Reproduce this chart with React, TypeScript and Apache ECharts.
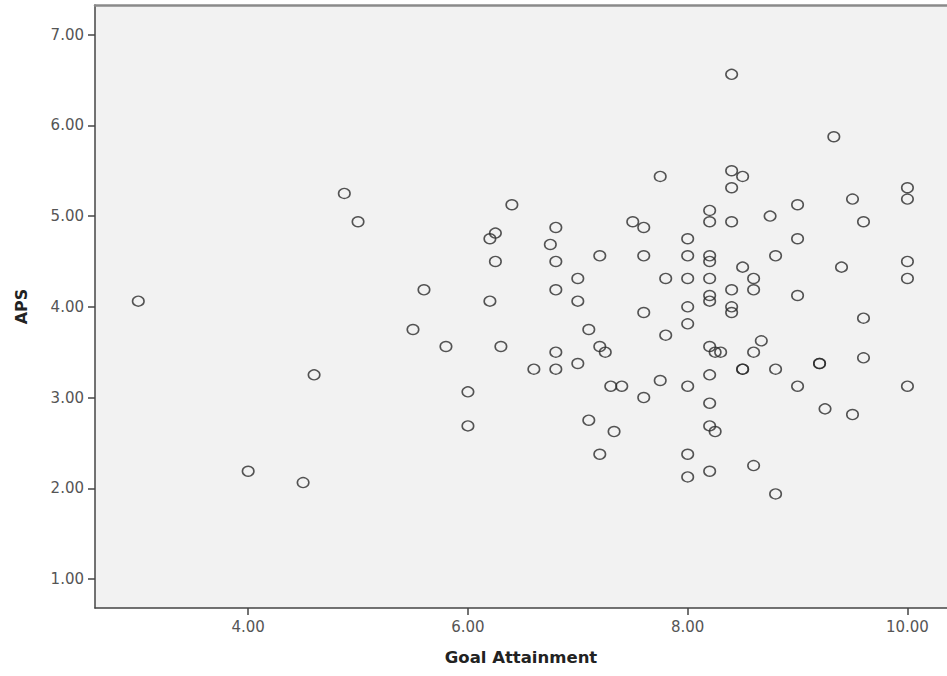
import React, { useEffect, useRef } from "react";
import * as echarts from "echarts";

const goalAttainment: number[] = [
  3.0, 4.0, 4.5, 4.6, 4.875, 5.0, 5.6, 5.5, 5.8, 6.0, 6.0,
  6.4, 6.8, 6.25, 6.2, 7.5, 7.6, 8.0, 6.75, 6.25, 6.8, 7.2, 7.6, 8.0,
  7.0, 7.8, 8.0, 6.8, 6.2, 7.0, 8.0, 7.6, 8.0, 7.1, 7.8, 6.3, 7.2, 7.25,
  6.8, 6.6, 6.8, 7.0, 7.3, 7.4, 7.75, 8.0, 7.6, 7.1, 7.33, 7.2, 8.0, 8.0,
  8.4, 9.33, 7.75, 8.4, 8.5, 8.4, 10.0, 10.0, 9.5, 9.0, 8.2, 8.2, 8.4,
  8.75, 9.6, 9.0, 8.2, 8.2, 8.8, 8.5, 9.4, 10.0, 10.0, 8.2, 8.6, 8.4,
  8.6, 9.0, 8.2, 8.2, 8.4, 8.4, 9.6, 8.67, 8.2, 8.25, 8.3, 8.6, 9.6,
  8.5, 8.5, 8.8, 9.2, 9.2, 8.2, 9.0, 10.0, 8.2, 9.25, 9.5, 8.2, 8.25,
  8.2, 8.6, 8.8,
];

const aps: number[] = [
  4.0625, 2.1875, 2.0625, 3.25, 5.25, 4.9375, 4.1875, 3.75, 3.5625, 3.0625, 2.6875,
  5.125, 4.875, 4.8125, 4.75, 4.9375, 4.875, 4.75, 4.6875, 4.5, 4.5, 4.5625, 4.5625, 4.5625,
  4.3125, 4.3125, 4.3125, 4.1875, 4.0625, 4.0625, 4.0, 3.9375, 3.8125, 3.75, 3.6875, 3.5625, 3.5625, 3.5,
  3.5, 3.3125, 3.3125, 3.375, 3.125, 3.125, 3.1875, 3.125, 3.0, 2.75, 2.625, 2.375, 2.375, 2.125,
  6.5625, 5.875, 5.4375, 5.5, 5.4375, 5.3125, 5.3125, 5.1875, 5.1875, 5.125, 5.0625, 4.9375, 4.9375,
  5.0, 4.9375, 4.75, 4.5625, 4.5, 4.5625, 4.4375, 4.4375, 4.5, 4.3125, 4.3125, 4.3125, 4.1875,
  4.1875, 4.125, 4.125, 4.0625, 4.0, 3.9375, 3.875, 3.625, 3.5625, 3.5, 3.5, 3.5, 3.4375,
  3.3125, 3.3125, 3.3125, 3.375, 3.375, 3.25, 3.125, 3.125, 2.9375, 2.875, 2.8125, 2.6875, 2.625,
  2.1875, 2.25, 1.9375,
];

const xTicks: number[] = [4, 6, 8, 10];
const yTicks: number[] = [1, 2, 3, 4, 5, 6, 7];

const xTitle = "Goal Attainment";
const yTitle = "APS";

export default function App() {
  const ref = useRef<HTMLDivElement>(null);

  useEffect(() => {
    if (!ref.current) return;
    const chart = echarts.init(ref.current, undefined, { renderer: "svg" });
    const points = goalAttainment.map((x, i) => [x, aps[i]]);
    const labelFont = "DejaVu Sans, sans-serif";
    const xMin = 2.606;
    const xMax = 10.36;
    chart.setOption({
      animation: false,
      backgroundColor: "#ffffff",
      grid: {
        left: 95,
        top: 5,
        right: 0,
        bottom: 68,
        show: true,
        backgroundColor: "#F2F2F2",
        borderWidth: 0,
      },
      xAxis: [
        {
          type: "value",
          min: xMin,
          max: xMax,
          name: xTitle,
          nameLocation: "middle",
          nameGap: 41,
          nameMoveOverlap: false,
          nameTextStyle: {
            fontFamily: labelFont,
            fontWeight: "bold",
            fontSize: 16.5,
            color: "#222",
          },
          axisLine: { show: true, onZero: false, lineStyle: { color: "#444", width: 1.5 } },
          axisTick: {
            show: true,
            customValues: xTicks,
            length: 7,
            lineStyle: { color: "#444", width: 1.5 },
          },
          axisLabel: {
            customValues: xTicks,
            formatter: (v: number) => v.toFixed(2),
            fontFamily: labelFont,
            fontSize: 15,
            color: "#555",
            margin: 11,
          },
          splitLine: { show: false },
        },
        {
          type: "value",
          position: "top",
          min: xMin,
          max: xMax,
          axisLine: { show: true, onZero: false, lineStyle: { color: "#8a8a8a", width: 2.5 } },
          axisTick: { show: false },
          axisLabel: { show: false },
          splitLine: { show: false },
        },
      ],
      yAxis: {
        type: "value",
        min: 0.68,
        max: 7.327,
        name: yTitle,
        nameLocation: "middle",
        nameGap: 66,
        nameMoveOverlap: false,
        nameRotate: 90,
        nameTextStyle: {
          fontFamily: labelFont,
          fontWeight: "bold",
          fontSize: 16,
          color: "#222",
        },
        axisLine: { show: true, onZero: false, lineStyle: { color: "#444", width: 1.5 } },
        axisTick: {
          show: true,
          customValues: yTicks,
          length: 7,
          lineStyle: { color: "#444", width: 1.5 },
        },
        axisLabel: {
          customValues: yTicks,
          formatter: (v: number) => v.toFixed(2),
          fontFamily: labelFont,
          fontSize: 15,
          color: "#555",
          margin: 11,
        },
        splitLine: { show: false },
      },
      series: [
        {
          type: "scatter",
          xAxisIndex: 0,
          data: points,
          symbol: "circle",
          symbolSize: [11.5, 10],
          itemStyle: {
            color: "rgba(0,0,0,0)",
            borderColor: "#2a2a2a",
            borderWidth: 1.5,
          },
          emphasis: { disabled: true },
        },
      ],
    });
    return () => chart.dispose();
  }, []);

  return (
    <div
      ref={ref}
      style={{ position: "fixed", left: 0, top: 0, width: 947, height: 676 }}
    />
  );
}
